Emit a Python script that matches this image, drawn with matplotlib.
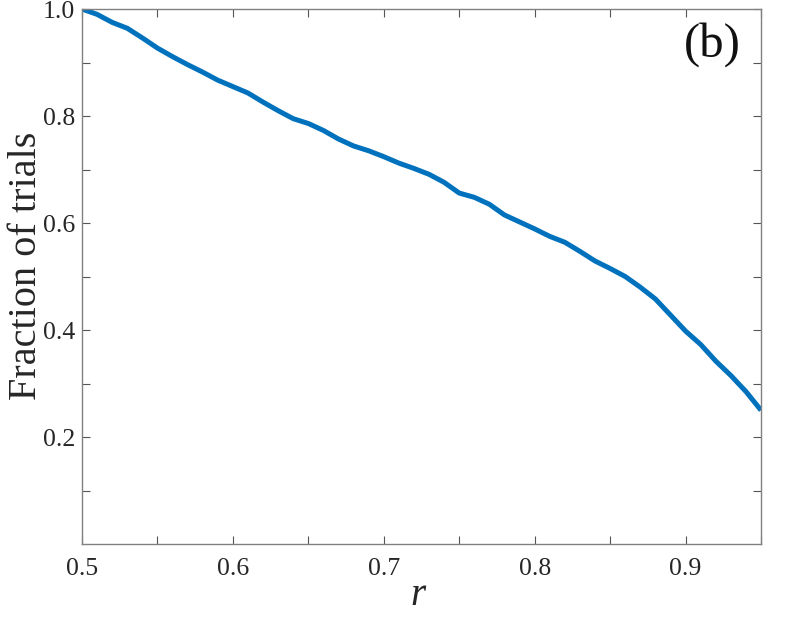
import matplotlib
matplotlib.use("Agg")
import matplotlib.pyplot as plt
import numpy as np

r_vals = [0.50, 0.51, 0.52, 0.53, 0.54, 0.55, 0.56, 0.57, 0.58, 0.59,
          0.60, 0.61, 0.62, 0.63, 0.64, 0.65, 0.66, 0.67, 0.68, 0.69,
          0.70, 0.71, 0.72, 0.73, 0.74, 0.75, 0.76, 0.77, 0.78, 0.79,
          0.80, 0.81, 0.82, 0.83, 0.84, 0.85, 0.86, 0.87, 0.88, 0.89,
          0.90, 0.91, 0.92, 0.93, 0.94, 0.95]
fraction = [1.000, 0.990, 0.975, 0.964, 0.946, 0.927, 0.911, 0.896, 0.882, 0.867,
            0.855, 0.843, 0.826, 0.810, 0.795, 0.786, 0.773, 0.757, 0.744, 0.735,
            0.724, 0.712, 0.702, 0.691, 0.676, 0.656, 0.648, 0.635, 0.615, 0.602,
            0.589, 0.575, 0.564, 0.547, 0.529, 0.515, 0.500, 0.480, 0.458, 0.428,
            0.398, 0.373, 0.342, 0.315, 0.285, 0.250]

x_major = [0.5, 0.6, 0.7, 0.8, 0.9]
x_minor = [0.55, 0.65, 0.75, 0.85, 0.95]
y_major = [0.2, 0.4, 0.6, 0.8, 1.0]
y_minor = [0.1, 0.3, 0.5, 0.7, 0.9]

plt.rcParams['font.family'] = ['Liberation Serif', 'DejaVu Serif']

fig = plt.figure(figsize=(7.86, 6.17), dpi=100)
ax = fig.add_axes([0.1043, 0.1183, 0.8639, 0.8671])
ax.plot(r_vals, fraction, color='#0072BD', linewidth=3.6, solid_capstyle='butt')
ax.set_xlim(0.5, 0.95)
ax.set_ylim(0.0, 1.0)

ax.set_xticks(x_major)
ax.set_xticklabels(['0.5', '0.6', '0.7', '0.8', '0.9'])
ax.set_xticks(x_minor, minor=True)
ax.set_yticks(y_major)
ax.set_yticklabels(['0.2', '0.4', '0.6', '0.8', '1.0'])
ax.set_yticks(y_minor, minor=True)

for which in ('major', 'minor'):
    ax.tick_params(axis='both', which=which, direction='in', length=6, width=0.8,
                   color='#555555', top=True, right=True, labelsize=18.5,
                   labelcolor='#262626')
ax.tick_params(axis='x', which='both', pad=10)
ax.tick_params(axis='y', which='both', pad=5)
for s in ax.spines.values():
    s.set_color('#808080')
    s.set_linewidth(1.0)

ax.set_ylabel('Fraction of trials', fontsize=29, color='#262626')
ax.yaxis.label.set_va('center')
ax.yaxis.set_label_coords(-0.082, 0.52)
ax.set_xlabel('r', fontsize=28, style='italic', color='#262626')
ax.xaxis.label.set_va('center')
ax.xaxis.set_label_coords(0.495, -0.097)
ax.text(0.929, 0.933, '(b)', transform=ax.transAxes, fontsize=35,
        ha='center', va='center', color='#111111')

fig.savefig('out.png', dpi=100)
